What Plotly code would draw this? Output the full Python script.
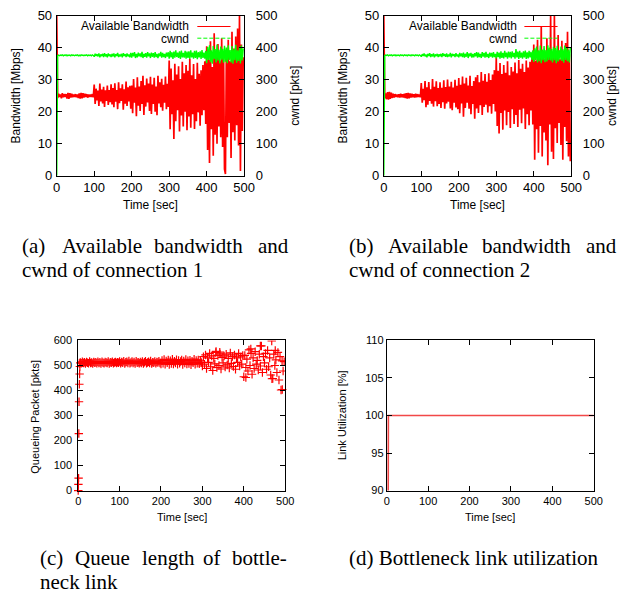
import numpy as np
import plotly.graph_objects as go

W, H = 634, 600

# ---------------- data ----------------
time_step = 2.5  # seconds between samples (each row below = 50 s)

bw_conn1 = [  # Available bandwidth of connection 1 [Mbps]
    50, 24.3, 25.6, 24.6, 25.4, 24.2, 25.8, 24.5, 25.5, 24.6, 25.5, 24.1, 25.9, 24.0, 25.8, 24.4, 25.6, 24.5, 25.4, 24.6,
    25.5, 24.5, 25.4, 24.3, 25.7, 24.1, 25.9, 24.2, 25.8, 24.4, 25.6, 24.6, 25.5, 24.4, 25.4, 24.6, 25.4, 24.6, 25.5, 24.5,
    28.5, 22.4, 27.2, 23.5, 26.6, 21.8, 28.8, 23.2, 26.9, 22.6, 27.8, 21.5, 26.7, 23.4, 28.2, 22.1, 26.8, 23.0, 28.6, 22.3,
    27.4, 21.4, 28.9, 23.1, 26.8, 20.8, 29.2, 22.7, 27.3, 23.4, 28.6, 20.6, 27.0, 22.5, 29.4, 21.8, 27.6, 23.2, 28.1, 20.9,
    28.2, 19.5, 30.2, 22.8, 27.6, 18.6, 30.8, 21.9, 27.9, 20.2, 29.6, 22.4, 31.2, 19.0, 28.3, 21.6, 30.4, 22.9, 28.8, 20.2,
    30.9, 19.3, 28.5, 22.4, 30.6, 20.0, 27.9, 18.9, 31.2, 22.6, 29.2, 21.4, 30.3, 20.3, 28.4, 22.8, 31.0, 20.8, 28.7, 21.5,
    36.0, 14.5, 33.5, 19.2, 29.8, 11.5, 35.0, 17.0, 31.6, 20.5, 34.2, 13.8, 30.2, 18.8, 35.6, 15.4, 32.0, 20.0, 34.6, 14.2,
    32.8, 18.5, 36.5, 15.0, 31.4, 19.2, 34.9, 14.6, 30.2, 17.0, 35.3, 19.8, 31.9, 15.6, 33.0, 18.9, 34.6, 20.5, 35.8, 16.2,
    40.5, 8.0, 36.2, 4.0, 42.0, 14.5, 34.0, 6.2, 44.5, 12.8, 37.5, 10.0, 41.2, 15.4, 35.8, 12.0, 43.0, 9.0, 38.2, 2.0,
    0.5, 38.5, 12.0, 42.5, 16.5, 35.8, 5.5, 45.0, 13.6, 39.8, 11.0, 43.5, 15.8, 46.0, 9.4, 50.0, 1.5, 41.0, 14.0, 37.0,
]

cwnd_conn1 = [  # cwnd of connection 1 [pkts]
    0, 375, 377, 375, 377, 376, 378, 375, 377, 376, 378, 375, 377, 376, 377, 375, 378, 376, 377, 375,
    377, 376, 378, 375, 377, 375, 378, 376, 377, 375, 377, 376, 378, 375, 377, 376, 377, 375, 378, 376,
    372, 381, 374, 380, 373, 382, 370, 379, 374, 381, 371, 383, 373, 380, 370, 382, 374, 379, 371, 381,
    373, 382, 370, 380, 374, 384, 371, 379, 373, 381, 370, 383, 374, 380, 371, 382, 373, 379, 370, 384,
    369, 384, 373, 386, 368, 381, 370, 385, 373, 382, 371, 387, 368, 381, 372, 383, 369, 386, 373, 382,
    368, 385, 372, 383, 369, 386, 371, 381, 368, 382, 373, 387, 369, 384, 371, 381, 368, 385, 372, 386,
    366, 390, 370, 386, 365, 388, 369, 392, 371, 385, 368, 389, 365, 391, 370, 384, 369, 390, 366, 388,
    368, 389, 365, 392, 370, 385, 366, 390, 368, 391, 364, 386, 370, 389, 365, 393, 368, 385, 366, 390,
    352, 402, 362, 408, 355, 392, 350, 405, 364, 396, 354, 410, 360, 394, 351, 404, 363, 397, 353, 406,
    356, 401, 352, 408, 362, 393, 354, 405, 350, 396, 361, 409, 353, 392, 359, 403, 351, 407, 360, 398,
]

bw_conn2 = [  # Available bandwidth of connection 2 [Mbps]
    50, 24.2, 25.7, 23.9, 26.1, 23.8, 26.2, 24.0, 26.0, 24.3, 25.6, 24.4, 25.5, 24.6, 25.4, 24.5, 25.5, 24.4, 25.6, 24.5,
    25.5, 24.4, 25.6, 24.3, 25.8, 24.1, 25.9, 24.2, 25.7, 24.4, 25.6, 24.5, 25.5, 24.4, 25.6, 24.5, 25.5, 24.6, 25.4, 24.5,
    29.0, 22.8, 27.2, 23.6, 29.6, 21.4, 27.6, 22.2, 29.3, 23.4, 27.0, 22.5, 30.2, 21.6, 27.8, 23.3, 29.5, 21.7, 27.4, 22.4,
    29.2, 21.2, 27.5, 23.0, 29.8, 20.9, 27.7, 22.6, 30.1, 23.1, 27.9, 21.0, 29.4, 20.5, 27.6, 22.8, 30.0, 21.3, 28.1, 20.8,
    30.5, 19.5, 28.4, 22.6, 31.0, 18.4, 28.8, 21.2, 30.6, 22.8, 28.2, 20.9, 31.2, 19.2, 28.0, 22.4, 29.6, 17.8, 30.8, 21.0,
    31.5, 19.6, 29.2, 22.0, 32.4, 19.0, 29.7, 21.5, 31.8, 22.2, 29.4, 19.8, 32.0, 21.7, 29.9, 19.4, 31.6, 22.4, 33.0, 20.1,
    37.0, 15.5, 32.8, 13.2, 35.2, 19.6, 31.8, 14.4, 34.6, 20.4, 32.2, 15.8, 35.8, 19.9, 31.4, 14.9, 34.0, 20.8, 32.6, 16.2,
    35.4, 19.0, 32.0, 15.2, 36.2, 20.6, 33.4, 16.4, 35.0, 21.0, 32.4, 14.6, 36.0, 19.2, 33.8, 15.8, 35.6, 20.4, 37.5, 16.0,
    41.0, 5.0, 36.0, 14.5, 42.5, 7.2, 37.2, 15.5, 46.8, 6.0, 38.5, 13.5, 36.6, 11.0, 43.0, 3.3, 39.8, 16.0, 50.0, 7.5,
    37.5, 5.2, 50.0, 14.8, 38.8, 10.2, 44.0, 16.5, 36.4, 9.6, 42.2, 5.0, 37.8, 15.2, 41.5, 10.8, 45.0, 6.0, 38.0, 4.5,
]

cwnd_conn2 = [  # cwnd of connection 2 [pkts]
    0, 375, 377, 376, 378, 375, 377, 376, 378, 375, 377, 376, 378, 375, 377, 376, 377, 375, 378, 376,
    377, 375, 378, 376, 377, 375, 378, 376, 377, 375, 378, 376, 377, 375, 378, 376, 377, 375, 378, 376,
    372, 380, 374, 382, 373, 379, 370, 381, 374, 383, 371, 380, 373, 382, 370, 379, 374, 381, 371, 380,
    373, 381, 371, 383, 374, 380, 372, 382, 371, 379, 373, 384, 370, 381, 374, 380, 371, 383, 373, 379,
    370, 384, 373, 382, 371, 385, 369, 381, 372, 386, 368, 382, 373, 384, 369, 381, 370, 383, 373, 386,
    369, 385, 371, 381, 368, 386, 372, 384, 369, 387, 371, 381, 368, 385, 372, 384, 369, 386, 371, 381,
    367, 387, 371, 385, 366, 389, 368, 384, 367, 390, 371, 385, 366, 388, 370, 387, 367, 389, 371, 384,
    366, 396, 370, 388, 365, 390, 369, 385, 366, 389, 370, 391, 365, 386, 367, 390, 370, 387, 362, 392,
    356, 398, 362, 404, 354, 392, 358, 407, 352, 394, 361, 405, 355, 393, 357, 408, 362, 401, 360, 396,
    354, 403, 361, 399, 352, 406, 357, 393, 363, 404, 359, 395, 353, 407, 362, 401, 358, 394, 354, 402,
]

queue_len = [  # queueing packets at the bottleneck [pkts]
    0, 508, 512, 509, 515, 510, 513, 508, 514, 511, 509, 516, 510, 512, 508, 514, 511, 513, 509, 515,
    510, 513, 508, 515, 511, 509, 514, 512, 510, 516, 508, 513, 511, 515, 509, 512, 514, 510, 513, 511,
    516, 509, 514, 511, 517, 508, 513, 515, 510, 518, 509, 512, 516, 510, 514, 508, 517, 511, 513, 509,
    514, 510, 516, 508, 513, 517, 509, 512, 515, 510, 518, 508, 513, 511, 516, 509, 514, 512, 517, 510,
    506, 520, 509, 524, 505, 518, 511, 522, 504, 519, 508, 525, 506, 517, 510, 523, 505, 520, 509, 516,
    522, 504, 518, 510, 524, 506, 519, 508, 521, 503, 517, 511, 525, 505, 520, 509, 522, 507, 518, 512,
    498, 535, 505, 542, 488, 530, 512, 548, 495, 538, 480, 528, 506, 552, 492, 540, 500, 546, 486, 532,
    510, 538, 494, 545, 502, 528, 490, 550, 508, 536, 496, 542, 485, 530, 512, 548, 498, 534, 505, 540,
    455, 540, 492, 525, 478, 562, 500, 548, 465, 530, 488, 555, 505, 520, 482, 545, 498, 578, 472, 535,
    510, 548, 485, 560, 495, 530, 462, 598, 448, 545, 500, 522, 472, 552, 442, 535, 402, 518, 478, 515,
]
# individual queue samples during start-up and a few outliers
queue_extra_t = [0.0, 0.5, 1.0, 1.5, 2.0, 2.8, 3.4, 4.0, 5.0, 333, 342, 405, 417, 440, 468, 476, 493]
queue_extra_v = [0, 25, 50, 228, 355, 425, 466, 496, 510, 556, 553, 452, 566, 578, 447, 560, 404]

util_t = [0, 4, 4, 500]           # link utilization [%]
util_v = [0, 0, 100, 100]

x_ticks = [0, 100, 200, 300, 400, 500]

# ---------------- helpers ----------------
def PX(x):
    return x / W


def PY(y):
    return 1 - y / H


t1 = np.arange(len(bw_conn1)) * time_step
t1c = np.arange(len(cwnd_conn1)) * time_step
t2 = np.arange(len(bw_conn2)) * time_step
t2c = np.arange(len(cwnd_conn2)) * time_step
tq = np.arange(len(queue_len)) * time_step

RED = "#ff0000"
GREEN = "#00ff00"
SANS = "Liberation Sans, Arial, sans-serif"
SERIF = "Liberation Serif, Times New Roman, serif"

fig = go.Figure()

# (a)
fig.add_trace(go.Scatter(x=t1, y=bw_conn1, mode="lines", xaxis="x", yaxis="y",
                         line=dict(color=RED, width=1.7, simplify=False), name="Available Bandwidth"))
fig.add_trace(go.Scatter(x=t1c, y=cwnd_conn1, mode="lines", xaxis="x", yaxis="y2",
                         line=dict(color=GREEN, width=1.4, simplify=False), name="cwnd"))
# (b)
fig.add_trace(go.Scatter(x=t2, y=bw_conn2, mode="lines", xaxis="x2", yaxis="y3",
                         line=dict(color=RED, width=1.7, simplify=False), name="Available Bandwidth"))
fig.add_trace(go.Scatter(x=t2c, y=cwnd_conn2, mode="lines", xaxis="x2", yaxis="y4",
                         line=dict(color=GREEN, width=1.4, simplify=False), name="cwnd"))
# (c)
mk = dict(symbol="cross-thin", size=6, color=RED, line=dict(color=RED, width=1.2))
fig.add_trace(go.Scatter(x=tq, y=queue_len, mode="markers", xaxis="x3", yaxis="y5", marker=mk))
fig.add_trace(go.Scatter(x=queue_extra_t, y=queue_extra_v, mode="markers", xaxis="x3", yaxis="y5",
                         marker=mk, cliponaxis=False))
# (d)
fig.add_trace(go.Scatter(x=util_t, y=util_v, mode="lines", xaxis="x4", yaxis="y6",
                         line=dict(color="rgba(240,40,40,0.85)", width=1.6)))


def ax(**kw):
    base = dict(showline=True, linecolor="black", linewidth=1, ticks="inside", ticklen=5,
                tickcolor="black", tickwidth=1, showgrid=False, zeroline=False,
                tickfont=dict(family=SANS, size=13, color="black"))
    base.update(kw)
    return base


ya = (PY(173), PY(9))
yc = (PY(496), PY(342))
small = dict(family=SANS, size=11, color="black")
y2title = dict(text="cwnd [pkts]", font=dict(family=SANS, size=12, color="black"), standoff=14)

fig.update_layout(
    width=W, height=H, margin=dict(l=0, r=0, t=0, b=0),
    paper_bgcolor="white", plot_bgcolor="white", showlegend=False,
    xaxis=ax(domain=[PX(54), PX(246)], anchor="y", range=[0, 500], tickvals=x_ticks, mirror="ticks"),
    yaxis=ax(domain=list(ya), anchor="x", range=[0, 50], dtick=10, mirror=True, ticklabelstandoff=1),
    yaxis2=ax(overlaying="y", side="right", anchor="x", range=[0, 500], dtick=100, ticklabelstandoff=8,
              title=y2title, automargin=False),
    xaxis2=ax(domain=[PX(389), PX(581)], anchor="y3", range=[0, 500], tickvals=x_ticks, mirror="ticks"),
    yaxis3=ax(domain=list(ya), anchor="x2", range=[0, 50], dtick=10, mirror=True, ticklabelstandoff=1),
    yaxis4=ax(overlaying="y3", side="right", anchor="x2", range=[0, 500], dtick=100, ticklabelstandoff=8),
    xaxis3=ax(domain=[PX(76), PX(288)], anchor="y5", range=[0, 500], tickvals=x_ticks, mirror="ticks",
              tickfont=small),
    yaxis5=ax(domain=list(yc), anchor="x3", range=[0, 600], dtick=100, mirror="ticks", tickfont=small,
              ticklabelstandoff=3),
    xaxis4=ax(domain=[PX(392), PX(604)], anchor="y6", range=[0, 500], tickvals=x_ticks, mirror="ticks",
              tickfont=small),
    yaxis6=ax(domain=list(yc), anchor="x4", range=[90, 110], dtick=5, mirror="ticks", tickfont=small),
)

ann = []


def text(s, x, y, size, family=SANS, angle=0, xanchor="center"):
    ann.append(dict(text=s, x=PX(x), y=PY(y), xref="paper", yref="paper", showarrow=False,
                    textangle=angle, xanchor=xanchor, yanchor="middle", borderpad=0,
                    font=dict(family=family, size=size, color="black")))


# axis titles
text("Bandwidth [Mbps]", 12, 91, 12, angle=-90)
text("Time [sec]", 150, 203, 12)
text("Bandwidth [Mbps]", 347, 91, 12, angle=-90)
text("cwnd [pkts]", 622, 91, 12, angle=-90)
text("Time [sec]", 485, 203, 12)
text("Queueing Packet [pkts]", 31, 420, 11, angle=-90)
text("Time [sec]", 182, 523, 11)
text("Link Utilization [%]", 346, 419, 11, angle=-90)
text("Time [sec]", 498, 523, 11)

# legends (gnuplot style: text, then sample)
shapes = []
for dx in (0, 335):
    text("Available Bandwidth", 191 + dx, 19.5, 12, xanchor="right")
    text("cwnd", 191 + dx, 32.5, 12, xanchor="right")
    shapes.append(dict(type="line", xref="paper", yref="paper", x0=PX(198 + dx), x1=PX(232 + dx),
                       y0=PY(20), y1=PY(20), line=dict(color=RED, width=1)))
    shapes.append(dict(type="line", xref="paper", yref="paper", x0=PX(198 + dx), x1=PX(232 + dx),
                       y0=PY(32), y1=PY(32), line=dict(color=GREEN, width=1, dash="4px,2px")))

# captions
for s, x in [("(a)", 17), ("Available", 58), ("bandwidth", 153), ("and", 259)]:
    text(s, x, 245, 21, family=SERIF, xanchor="left")
text("cwnd of connection 1", 17, 270, 21, family=SERIF, xanchor="left")
for s, x in [("(b)", 352), ("Available", 392), ("bandwidth", 489), ("and", 595)]:
    text(s, x, 245, 21, family=SERIF, xanchor="left")
text("cwnd of connection 2", 352, 270, 21, family=SERIF, xanchor="left")
for s, x in [("(c)", 36), ("Queue", 72), ("length", 140), ("of", 203), ("bottle-", 233)]:
    text(s, x, 565, 21, family=SERIF, xanchor="left")
text("neck link", 36, 590, 21, family=SERIF, xanchor="left")
text("(d) Bottleneck link utilization", 352, 565, 21, family=SERIF, xanchor="left")

fig.update_layout(annotations=ann, shapes=shapes)
fig.write_html("out.html", config={"displayModeBar": False, "staticPlot": True},
               post_script="document.body.style.margin='0';")
